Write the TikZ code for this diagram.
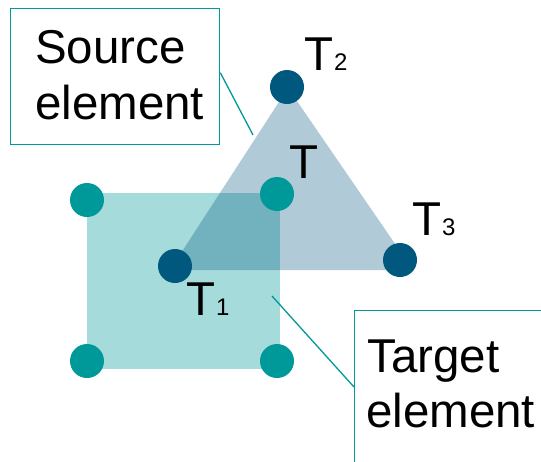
\documentclass[tikz,border=0pt]{standalone}
\usepackage{fontspec}
\setmainfont{Liberation Sans}
\usetikzlibrary{calc}
\definecolor{teal1}{HTML}{009999}
\definecolor{navy1}{HTML}{00587F}
\tikzset{
  big/.style={inner sep=0pt, anchor=base west, font=\fontsize{47.5}{56}\selectfont},
  small/.style={inner sep=0pt, anchor=base west, font=\fontsize{24}{28}\selectfont},
  labelbox/.style={draw=teal1, line width=1.3pt, fill=white, inner sep=0pt, anchor=north west},
  conn/.style={draw=teal1, line width=1.3pt},
  tdot/.style={circle, fill=teal1, minimum size=34pt, inner sep=0pt},
  ndot/.style={circle, fill=navy1, minimum size=34pt, inner sep=0pt},
}
\begin{document}
\begin{tikzpicture}[x=1pt,y=-1pt]
\clip (0,0) rectangle (541,461);
\fill[white] (0,0) rectangle (541,461);
% target element (square)
\fill[teal1, fill opacity=0.35] (87,193) rectangle (280,369);
% source element (triangle)
\fill[navy1, fill opacity=0.31] (288,88) -- (413,270) -- (170,270) -- cycle;
% square nodes
\node[tdot] (q1) at (87,200) {};
\node[tdot] (q2) at (277,194) {};
\node[tdot] (q3) at (87,361) {};
\node[tdot] (q4) at (277,361) {};
% triangle nodes
\node[ndot] (t1) at (175,266) {};
\node[ndot] (t2) at (287,87) {};
\node[ndot] (t3) at (400,260) {};
% labels
\node[big] (lt2) at (304,70) {T};
\node[small] (lt2s) at (334,70) {2};
\node[big] (lt) at (289,178) {T};
\node[big] (lt3) at (412,235) {T};
\node[small] (lt3s) at (442,235) {3};
\node[big] (lt1) at (186,315) {T};
\node[small] (lt1s) at (216,315) {1};
% source box
\node[labelbox, minimum width=209pt, minimum height=136pt] (src) at (10,8) {};
\node[big] (srct1) at (35,63) {Source};
\node[big] (srct2) at (35,119) {element};
\coordinate (srcpt) at (253,135);
\draw[conn] ([yshift=4pt]src.east) -- (srcpt);
% target box
\node[labelbox, minimum width=220pt, minimum height=200pt] (tgt) at (354,310) {};
\node[big] (tgtt1) at (367,372) {Target};
\node[big] (tgtt2) at (366,427) {element};
\coordinate (tgtpt) at (272,296);
\draw[conn] (tgtpt) -- ($(tgt.north west)+(0,77)$);
\end{tikzpicture}
\end{document}
